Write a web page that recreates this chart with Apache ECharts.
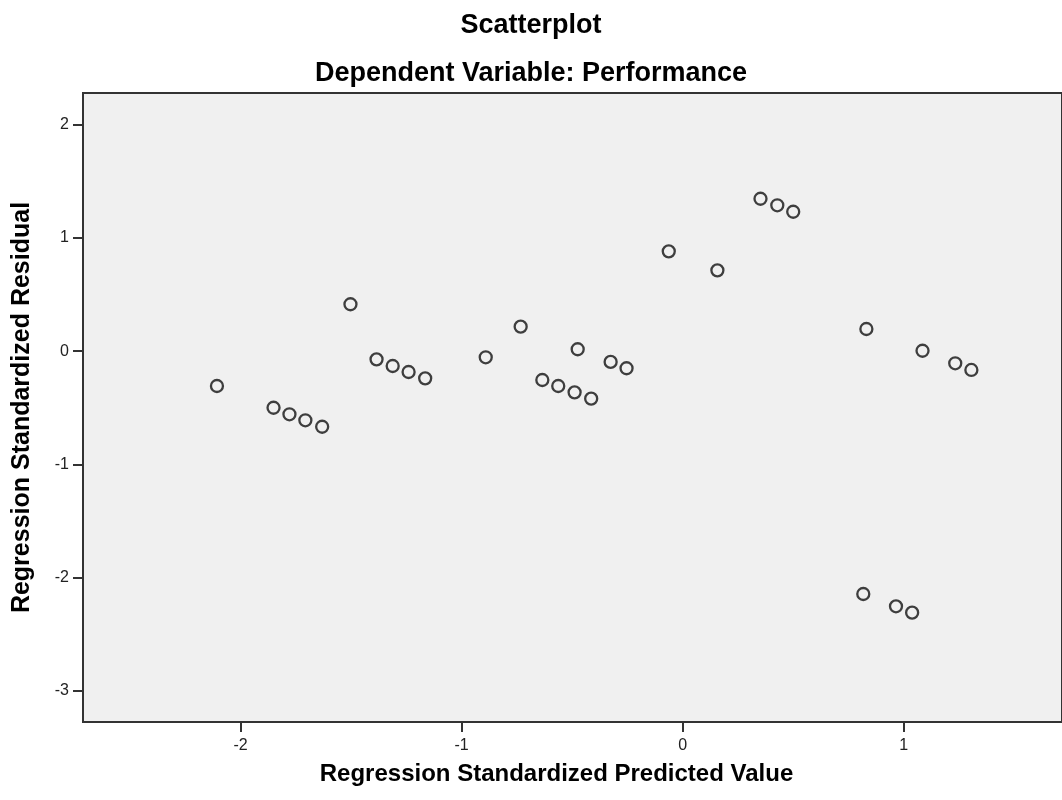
<!DOCTYPE html>
<html>
<head>
<meta charset="utf-8">
<script src="https://cdn.jsdelivr.net/npm/echarts@6/dist/echarts.min.js"></script>
<style>
  html, body { margin: 0; padding: 0; background: #fff; }
  #chart { width: 1062px; height: 800px; }
</style>
</head>
<body>
<div id="chart"></div>
<script>
// Regression standardized predicted value (x) vs standardized residual (y)
const predicted = [
  -2.107, -1.851, -1.779, -1.707, -1.631, -1.503, -1.385, -1.312, -1.240, -1.165,
  -0.891, -0.733, -0.635, -0.563, -0.489, -0.475, -0.414, -0.326, -0.254,
  -0.063, 0.157, 0.352, 0.428, 0.500,
  0.817, 0.831, 0.965, 1.038, 1.085, 1.233, 1.306
];
const residual = [
  -0.308, -0.500, -0.558, -0.611, -0.668, 0.415, -0.072, -0.131, -0.184, -0.240,
  -0.054, 0.217, -0.255, -0.308, -0.364, 0.017, -0.420, -0.095, -0.151,
  0.883, 0.715, 1.348, 1.290, 1.233,
  -2.147, 0.196, -2.256, -2.312, 0.004, -0.107, -0.166
];
const xTicks = [-2, -1, 0, 1];
const yTicks = [-3, -2, -1, 0, 1, 2];

const points = predicted.map((x, i) => [x, residual[i]]);

const myChart = echarts.init(document.getElementById("chart"));

const font = "'Liberation Sans', Arial, sans-serif";

myChart.setOption({
  backgroundColor: "#fff",
  animation: false,
  title: [
    {
      text: "Scatterplot",
      left: "center",
      top: 6,
      textStyle: { fontFamily: font, fontSize: 27, fontWeight: "bold", color: "#000", lineHeight: 30 },
    },
    {
      text: "Dependent Variable: Performance",
      left: "center",
      top: 54,
      textStyle: { fontFamily: font, fontSize: 27, fontWeight: "bold", color: "#000", lineHeight: 30 },
    },
  ],
  grid: {
    left: 83,
    right: -2,
    top: 93,
    bottom: 78,
    show: true,
    backgroundColor: "#f0f0f0",
    borderColor: "#333",
    borderWidth: 2,
  },
  xAxis: {
    type: "value",
    min: -2.713,
    max: 1.716,
    name: "Regression Standardized Predicted Value",
    nameLocation: "middle",
    nameGap: 40,
    nameTextStyle: {
      fontFamily: font, fontSize: 24, fontWeight: "bold", color: "#000",
      padding: [0, 32, 0, 0],
    },
    axisLine: { show: true, onZero: false, lineStyle: { color: "#333", width: 2 } },
    axisTick: { show: true, customValues: xTicks, length: 10, lineStyle: { color: "#333", width: 2 } },
    axisLabel: { customValues: xTicks, fontFamily: font, fontSize: 16, color: "#222", margin: 16 },
    splitLine: { show: false },
  },
  yAxis: {
    type: "value",
    min: -3.279,
    max: 2.283,
    name: "Regression Standardized Residual",
    nameLocation: "middle",
    nameGap: 48,
    nameTextStyle: { fontFamily: font, fontSize: 25, fontWeight: "bold", color: "#000" },
    axisLine: { show: true, onZero: false, lineStyle: { color: "#333", width: 2 } },
    axisTick: { show: true, customValues: yTicks, length: 10, lineStyle: { color: "#333", width: 2 } },
    axisLabel: { customValues: yTicks, fontFamily: font, fontSize: 16, color: "#222", margin: 14 },
    splitLine: { show: false },
  },
  series: [
    {
      type: "scatter",
      data: points,
      symbol: "circle",
      symbolSize: 12,
      itemStyle: {
        color: "rgba(0,0,0,0)",
        borderColor: "#111",
        borderWidth: 2.3,
      },
    },
  ],
});
</script>
</body>
</html>
